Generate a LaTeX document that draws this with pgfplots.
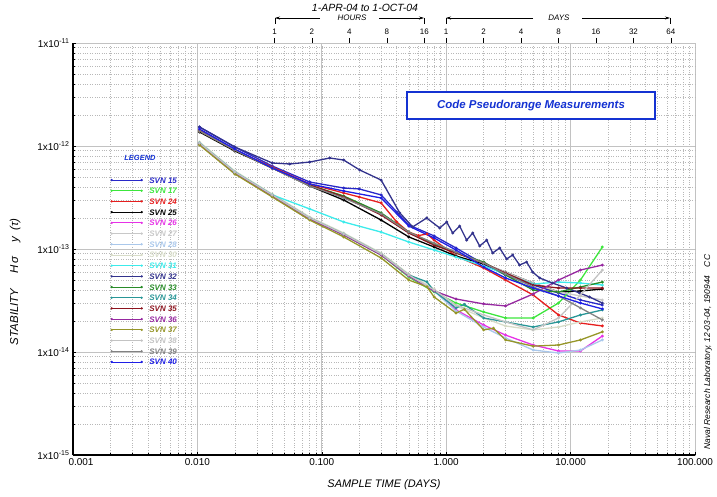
\documentclass[border=0pt]{standalone}
\usepackage{fontspec}
\setmainfont{Liberation Sans}
\usepackage{pgfplots}
\pgfplotsset{compat=1.18}
\usetikzlibrary{arrows.meta}
\definecolor{c15}{RGB}{40,40,200}
\definecolor{c17}{RGB}{60,230,60}
\definecolor{c24}{RGB}{230,30,30}
\definecolor{c25}{RGB}{0,0,0}
\definecolor{c26}{RGB}{230,50,230}
\definecolor{c27}{RGB}{200,200,200}
\definecolor{c28}{RGB}{170,200,235}
\definecolor{c30}{RGB}{215,220,200}
\definecolor{c31}{RGB}{60,235,235}
\definecolor{c32}{RGB}{50,50,140}
\definecolor{c33}{RGB}{40,140,40}
\definecolor{c34}{RGB}{40,150,150}
\definecolor{c35}{RGB}{140,20,30}
\definecolor{c36}{RGB}{150,40,160}
\definecolor{c37}{RGB}{150,150,40}
\definecolor{c38}{RGB}{195,195,195}
\definecolor{c39}{RGB}{130,130,130}
\definecolor{c40}{RGB}{30,30,230}
\definecolor{boxblue}{RGB}{20,50,210}
\begin{document}
\begin{tikzpicture}[x=1bp,y=1bp]
\useasboundingbox (-73,-42) rectangle (644,455);
\begin{axis}[
  at={(0,0)}, anchor=south west, scale only axis, width=622bp, height=412bp,
  xmode=log, ymode=log, xmin=0.001, xmax=100, ymin=1e-15, ymax=1e-11,
  xtick={0.001,0.01,0.1,1,10,100},
  xticklabels={\hspace*{16bp}0.001,0.010,0.100,1.000,10.000,100.000},
  ytick={1e-15,1e-14,1e-13,1e-12,1e-11},
  yticklabels={1x10\textsuperscript{-15},1x10\textsuperscript{-14},1x10\textsuperscript{-13},1x10\textsuperscript{-12},1x10\textsuperscript{-11}},
  /pgf/number format/assume math mode=true,
  ticklabel style={font=\fontsize{10}{12}\selectfont},
  grid=both,
  major grid style={draw=black!24, line width=0.7pt},
  minor grid style={draw=black!28, dotted, line width=0.5pt},
  axis lines*=left,
  axis line style={black, line width=1.3pt},
  tick style={black, line width=0.5pt},
  tick align=inside, major tick length=3bp, minor tick length=2bp,
  xlabel={\itshape SAMPLE TIME (DAYS)},
  ylabel={\itshape STABILITY\quad\ H\,σ\quad\ y\enspace(τ)},
  xlabel style={at={(axis description cs:0.5,-0.073)}, anchor=center, font=\fontsize{11}{13}\selectfont},
  ylabel style={at={(axis description cs:-0.093,0.42)}, anchor=center, font=\fontsize{11.5}{13}\selectfont},
  every axis plot/.append style={line width=1.3bp, mark=*, mark size=0.7bp},
  legend style={at={(rel axis cs:0.056,0.68)}, anchor=north west, draw=none, fill=none,
    font=\fontsize{8}{9}\selectfont\bfseries\itshape, row sep=4.7bp,
    nodes={inner sep=0pt, text height=6bp, text depth=0bp},
    /tikz/every odd column/.append style={column sep=7bp}},
  legend cell align=left,
  legend image code/.code={\draw[mark repeat=1,#1,line width=0.8bp] plot coordinates {(0bp,0bp) (30bp,0bp)};},
]
\addplot[c15] coordinates {(0.0104,1.53e-12) (0.02,0.978e-12) (0.04,0.639e-12) (0.08,0.447e-12) (0.15,0.391e-12) (0.2,0.383e-12) (0.3,0.335e-12) (0.4,0.229e-12) (0.5,0.171e-12) (0.8,0.134e-12) (1.2,0.1023e-12) (2,0.715e-13) (3,0.559e-13) (5,0.447e-13) (8,0.374e-13) (12,0.320e-13) (18,0.286e-13)};
\addlegendentry{\textcolor{c15}{SVN 15}}
\addplot[c17] coordinates {(0.0104,1.046e-12) (0.02,0.547e-12) (0.04,0.327e-12) (0.08,0.196e-12) (0.15,0.137e-12) (0.3,0.875e-13) (0.5,0.535e-13) (0.8,0.383e-13) (1.2,0.299e-13) (2,0.245e-13) (3,0.214e-13) (5,0.214e-13) (8,0.299e-13) (12,0.500e-13) (18,1.046e-13)};
\addlegendentry{\textcolor{c17}{SVN 17}}
\addplot[c24] coordinates {(0.0104,1.431e-12) (0.02,0.915e-12) (0.04,0.625e-12) (0.08,0.428e-12) (0.15,0.350e-12) (0.2,0.320e-12) (0.3,0.280e-12) (0.4,0.183e-12) (0.5,0.146e-12) (0.6,0.135e-12) (0.7,0.140e-12) (0.8,0.122e-12) (1.2,0.855e-13) (2,0.654e-13) (3,0.500e-13) (5,0.358e-13) (8,0.229e-13) (12,0.191e-13) (18,0.179e-13)};
\addlegendentry{\textcolor{c24}{SVN 24}}
\addplot[c25] coordinates {(0.0104,1.368e-12) (0.02,0.894e-12) (0.04,0.611e-12) (0.08,0.409e-12) (0.15,0.299e-12) (0.3,0.191e-12) (0.5,0.131e-12) (0.8,0.1046e-12) (1.2,0.855e-13) (2,0.715e-13) (3,0.598e-13) (5,0.467e-13) (8,0.383e-13) (12,0.391e-13) (18,0.409e-13)};
\addlegendentry{\textcolor{c25}{SVN 25}}
\addplot[c26] coordinates {(0.0104,1.069e-12) (0.02,0.559e-12) (0.04,0.335e-12) (0.08,0.200e-12) (0.15,0.140e-12) (0.3,0.894e-13) (0.5,0.559e-13) (0.8,0.400e-13) (1.2,0.256e-13) (2,0.183e-13) (3,0.146e-13) (5,0.117e-13) (8,0.1023e-13) (12,0.1023e-13) (18,0.143e-13)};
\addlegendentry{\textcolor{c26}{SVN 26}}
\addplot[c27] coordinates {(0.0104,1.399e-12) (0.02,0.915e-12) (0.04,0.611e-12) (0.08,0.418e-12) (0.15,0.320e-12) (0.3,0.219e-12) (0.5,0.143e-12) (0.8,0.112e-12) (1.2,0.915e-13) (2,0.731e-13) (3,0.598e-13) (5,0.467e-13) (8,0.383e-13) (12,0.350e-13) (18,0.320e-13)};
\addlegendentry{\textcolor{c27}{SVN 27}}
\addplot[c28] coordinates {(0.0104,1.069e-12) (0.02,0.559e-12) (0.04,0.335e-12) (0.08,0.200e-12) (0.15,0.140e-12) (0.3,0.894e-13) (0.5,0.547e-13) (0.8,0.391e-13) (1.2,0.250e-13) (2,0.175e-13) (3,0.137e-13) (5,0.1046e-13) (8,0.0978e-13) (12,0.1046e-13) (18,0.131e-13)};
\addlegendentry{\textcolor{c28}{SVN 28}}
\addplot[c30] coordinates {(0.0104,1.093e-12) (0.02,0.572e-12) (0.04,0.342e-12) (0.08,0.205e-12) (0.15,0.143e-12) (0.3,0.915e-13) (0.5,0.572e-13) (0.8,0.409e-13) (1.2,0.280e-13) (2,0.214e-13) (3,0.179e-13) (5,0.164e-13) (8,0.175e-13) (12,0.196e-13) (18,0.214e-13)};
\addlegendentry{\textcolor{c30}{SVN 30}}
\addplot[c31] coordinates {(0.0104,1.069e-12) (0.02,0.559e-12) (0.04,0.335e-12) (0.08,0.245e-12) (0.15,0.183e-12) (0.3,0.146e-12) (0.5,0.117e-12) (0.8,0.978e-13) (1.2,0.836e-13) (2,0.684e-13) (3,0.572e-13) (5,0.457e-13) (8,0.478e-13) (12,0.467e-13) (18,0.447e-13)};
\addlegendentry{\textcolor{c31}{SVN 31}}
\addplot[c32] coordinates {(0.0104,1.53e-12) (0.02,0.978e-12) (0.04,0.684e-12) (0.0553,0.669e-12) (0.08,0.699e-12) (0.1159,0.765e-12) (0.15,0.731e-12) (0.2018,0.585e-12) (0.3,0.467e-12) (0.4236,0.224e-12) (0.538,0.164e-12) (0.697,0.200e-12) (0.887,0.160e-12) (1.009,0.183e-12) (1.128,0.143e-12) (1.283,0.167e-12) (1.461,0.122e-12) (1.633,0.143e-12) (1.858,0.107e-12) (2.115,0.122e-12) (2.363,0.915e-13) (2.69,1.023e-13) (3.06,0.800e-13) (3.42,0.875e-13) (3.89,0.699e-13) (4.43,0.748e-13) (4.95,0.598e-13) (5.64,0.523e-13) (7.17,0.467e-13) (9.29,0.418e-13) (11.8,0.374e-13) (14.2,0.342e-13) (18,0.299e-13)};
\addlegendentry{\textcolor{c32}{SVN 32}}
\addplot[c33] coordinates {(0.0104,1.399e-12) (0.02,0.915e-12) (0.04,0.611e-12) (0.08,0.418e-12) (0.15,0.327e-12) (0.3,0.224e-12) (0.5,0.146e-12) (0.8,0.112e-12) (1.2,0.915e-13) (2,0.748e-13) (3,0.559e-13) (5,0.400e-13) (8,0.383e-13) (12,0.428e-13) (18,0.478e-13)};
\addlegendentry{\textcolor{c33}{SVN 33}}
\addplot[c34] coordinates {(0.0104,1.069e-12) (0.02,0.559e-12) (0.04,0.335e-12) (0.08,0.200e-12) (0.15,0.140e-12) (0.3,0.894e-13) (0.5,0.559e-13) (0.7,0.48e-13) (0.8,0.391e-13) (1.2,0.268e-13) (1.4,0.29e-13) (2,0.214e-13) (3,0.196e-13) (5,0.175e-13) (8,0.196e-13) (12,0.229e-13) (18,0.256e-13)};
\addlegendentry{\textcolor{c34}{SVN 34}}
\addplot[c35] coordinates {(0.0104,1.399e-12) (0.02,0.915e-12) (0.04,0.611e-12) (0.08,0.418e-12) (0.15,0.320e-12) (0.3,0.214e-12) (0.5,0.143e-12) (0.8,0.109e-12) (1.2,0.915e-13) (2,0.731e-13) (3,0.585e-13) (5,0.447e-13) (8,0.418e-13) (12,0.418e-13) (18,0.418e-13)};
\addlegendentry{\textcolor{c35}{SVN 35}}
\addplot[c36] coordinates {(0.0104,1.046e-12) (0.02,0.547e-12) (0.04,0.327e-12) (0.08,0.196e-12) (0.15,0.137e-12) (0.3,0.875e-13) (0.5,0.547e-13) (0.8,0.391e-13) (1.2,0.327e-13) (2,0.293e-13) (3,0.280e-13) (5,0.366e-13) (8,0.500e-13) (12,0.625e-13) (18,0.699e-13)};
\addlegendentry{\textcolor{c36}{SVN 36}}
\addplot[c37] coordinates {(0.0104,1.022e-12) (0.02,0.535e-12) (0.04,0.320e-12) (0.08,0.191e-12) (0.15,0.131e-12) (0.3,0.818e-13) (0.5,0.500e-13) (0.7,0.43e-13) (0.8,0.342e-13) (1.2,0.239e-13) (1.4,0.26e-13) (2,0.164e-13) (2.4,0.17e-13) (3,0.131e-13) (5,0.114e-13) (8,0.117e-13) (12,0.131e-13) (18,0.157e-13)};
\addlegendentry{\textcolor{c37}{SVN 37}}
\addplot[c38] coordinates {(0.0104,1.069e-12) (0.02,0.559e-12) (0.04,0.335e-12) (0.08,0.200e-12) (0.15,0.140e-12) (0.3,0.894e-13) (0.5,0.559e-13) (0.8,0.400e-13) (1.2,0.286e-13) (2,0.229e-13) (3,0.196e-13) (5,0.164e-13) (8,0.214e-13) (12,0.358e-13) (18,0.625e-13)};
\addlegendentry{\textcolor{c38}{SVN 38}}
\addplot[c39] coordinates {(0.0104,1.399e-12) (0.02,0.915e-12) (0.04,0.611e-12) (0.08,0.409e-12) (0.15,0.313e-12) (0.3,0.219e-12) (0.5,0.146e-12) (0.8,0.114e-12) (1.2,0.935e-13) (2,0.731e-13) (3,0.572e-13) (5,0.428e-13) (8,0.350e-13) (12,0.268e-13) (18,0.205e-13)};
\addlegendentry{\textcolor{c39}{SVN 39}}
\addplot[c40] coordinates {(0.0104,1.462e-12) (0.02,0.935e-12) (0.04,0.611e-12) (0.08,0.428e-12) (0.15,0.366e-12) (0.3,0.313e-12) (0.5,0.167e-12) (0.8,0.128e-12) (1.2,0.978e-13) (2,0.669e-13) (3,0.523e-13) (5,0.418e-13) (8,0.350e-13) (12,0.299e-13) (18,0.262e-13)};
\addlegendentry{\textcolor{c40}{SVN 40}}
\end{axis}
\begin{axis}[
  at={(0,0)}, anchor=south west, scale only axis, width=622bp, height=412bp,
  xmode=log, xmin=0.001, xmax=100, ymin=0, ymax=1,
  axis x line*=top, axis y line=none, x axis line style={draw=none},
  xtick={0.0416667,0.0833333,0.1666667,0.3333333,0.6666667,1,2,4,8,16,32,64},
  xticklabels={1,2,4,8,16,1,2,4,8,16,32,64},
  xminorticks=false,
  /pgf/number format/assume math mode=true,
  tick align=outside, major tick length=5bp,
  xtick style={black, line width=0.6pt},
  xticklabel style={font=\fontsize{8}{9}\selectfont},
]
\end{axis}
% top annotations
\node[font=\fontsize{10.5}{12}\selectfont\itshape] at (292,447.5) {1-APR-04 to 1-OCT-04};
\draw[line width=0.6pt] (202,431) -- (202,437);
\draw[line width=0.6pt,-{Stealth[length=5bp,width=3bp]}] (247,437) -- (202,437);
\node[font=\fontsize{8}{9}\selectfont\itshape] at (279,437) {HOURS};
\draw[line width=0.6pt,-{Stealth[length=5bp,width=3bp]}] (306,437) -- (351,437);
\draw[line width=0.6pt] (351,437) -- (351,431);
\draw[line width=0.6pt] (373,431) -- (373,437);
\draw[line width=0.6pt,-{Stealth[length=5bp,width=3bp]}] (460,437) -- (373,437);
\node[font=\fontsize{8}{9}\selectfont\itshape] at (486,437) {DAYS};
\draw[line width=0.6pt,-{Stealth[length=5bp,width=3bp]}] (509,437) -- (597,437);
\draw[line width=0.6pt] (597,437) -- (597,431);
% legend title
\node[font=\fontsize{7.5}{9}\selectfont\bfseries\itshape, text=boxblue] at (67,297) {LEGEND};
% measurement box
\node[draw=boxblue, line width=1.3bp, fill=white, minimum width=248bp, minimum height=27bp,
  font=\fontsize{11.5}{13}\selectfont\bfseries\itshape, text=boxblue] at (458,349.5) {Code Pseudorange Measurements};
% right side credit
\node[rotate=90, anchor=base west, font=\fontsize{8.5}{10}\selectfont\itshape] at (637,2) {Naval Research Laboratory, 12-03-04, 190944\quad CC};
\end{tikzpicture}
\end{document}
